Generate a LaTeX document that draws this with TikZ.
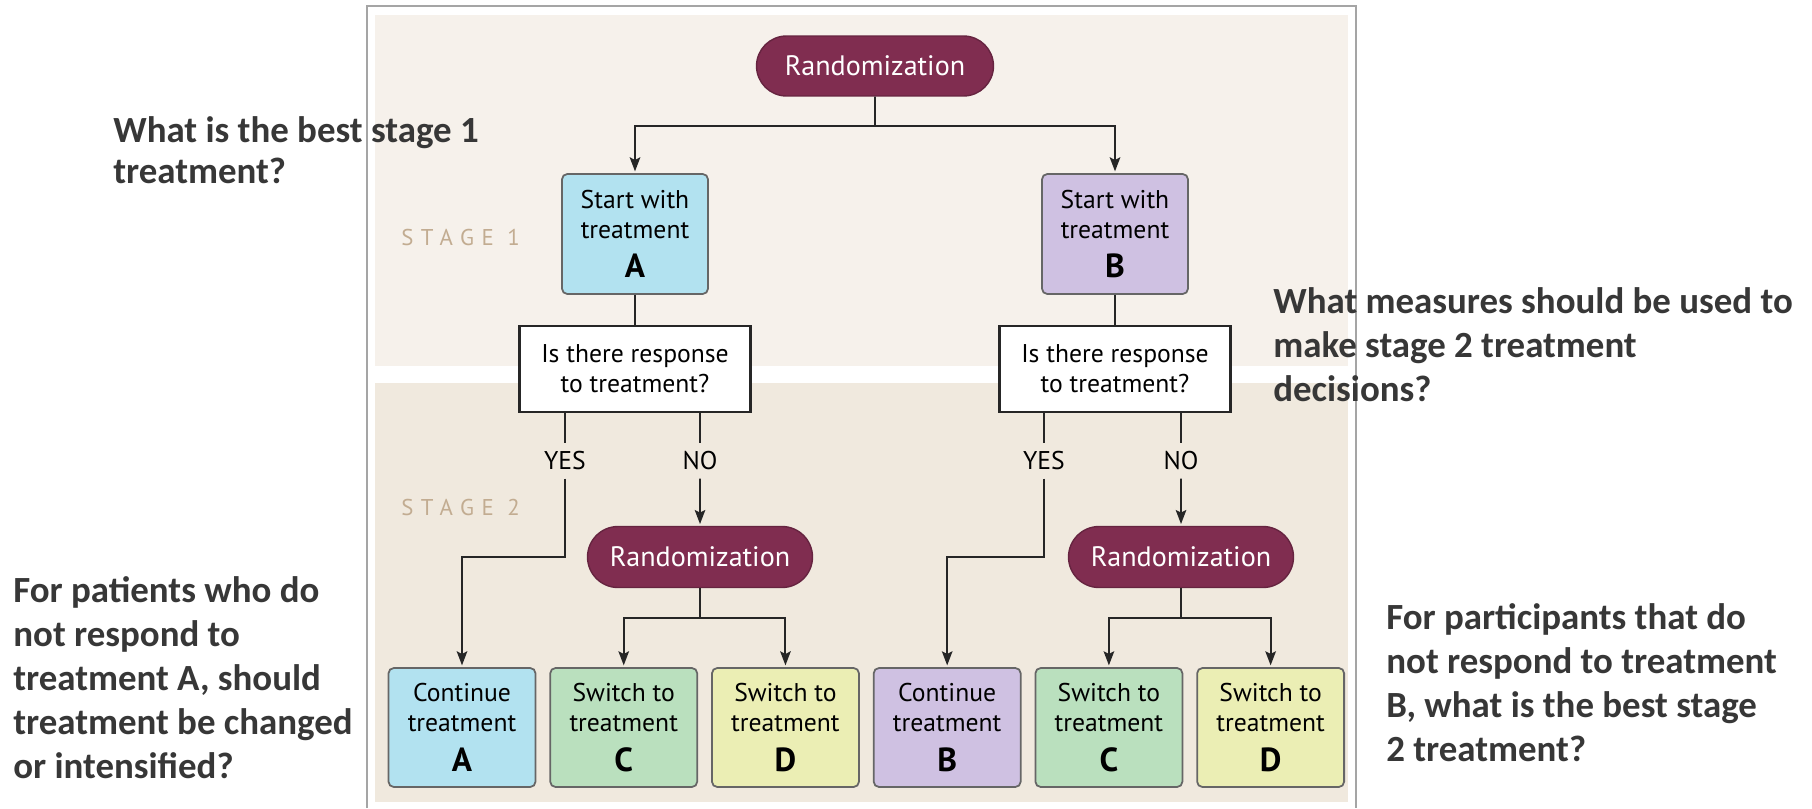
\documentclass[tikz,border=0pt]{standalone}
\usepackage{fontspec}
\setmainfont{PT Sans}
\newfontfamily\noteFont{Carlito}
\usetikzlibrary{arrows.meta,positioning,shapes.misc}
\definecolor{randRed}{RGB}{128,45,80}
\definecolor{treatA}{RGB}{178,226,240}
\definecolor{treatB}{RGB}{207,193,226}
\definecolor{treatC}{RGB}{186,224,190}
\definecolor{treatD}{RGB}{235,238,180}
\definecolor{stageOneBg}{RGB}{246,241,235}
\definecolor{stageTwoBg}{RGB}{240,233,222}
\definecolor{stageInk}{RGB}{194,172,145}
\definecolor{noteInk}{RGB}{55,55,55}
\definecolor{frameGray}{RGB}{165,165,165}

\begin{document}
\begin{tikzpicture}[x=0.02cm, y=-0.02cm,
  link/.style={line width=1.1pt, draw=black!85},
  flow/.style={link, -{Stealth[length=8pt,width=6pt,inset=1.5pt]}, shorten >=1pt},
  rand/.style={rounded rectangle, fill=randRed, draw=randRed!80!black, line width=0.8pt,
    text=white, font=\fontsize{16}{19}\selectfont, minimum width=4.74cm, minimum height=1.2cm, inner sep=0pt},
  tbox/.style={rectangle, rounded corners=3pt, draw=black!60, line width=1pt, align=center,
    font=\fontsize{14.6}{17}\selectfont, inner sep=0pt},
  startbox/.style={tbox, minimum width=2.92cm, minimum height=2.4cm},
  leaf/.style={tbox, minimum width=2.94cm, minimum height=2.38cm},
  ask/.style={rectangle, draw=black!85, line width=1.3pt, fill=white, align=center,
    font=\fontsize{14.6}{17}\selectfont, minimum width=4.62cm, minimum height=1.72cm, inner sep=0pt},
  answer/.style={font=\fontsize{14.6}{17}\selectfont, inner sep=4.5pt},
  stage/.style={text=stageInk, font=\fontsize{13}{15}\selectfont\addfontfeature{LetterSpace=33},
    inner sep=0pt, anchor=base west},
  note/.style={text=noteInk, font=\noteFont\bfseries\fontsize{21}{25}\selectfont, align=left,
    inner sep=0pt, anchor=base west}
]
    \newcommand{\bigLetter}[1]{
        {\fontsize{19}{19}\selectfont\bfseries #1}
    }
  \useasboundingbox (0,0) rectangle (1812,808);

  \fill[stageOneBg] (375,15) rectangle (1348,366);
  \fill[stageTwoBg] (375,383) rectangle (1348,802);
  \draw[frameGray, line width=1.2pt] (367,808) -- (367,6) -- (1356,6) -- (1356,808);

  \node[stage] (stageOne) at (401,245) {STAGE 1};
  \node[stage] (stageTwo) at (401,515) {STAGE 2};

  \node[rand] (randTop) at (875,66) {Randomization};
  \node[startbox, fill=treatA] (startA) at (635,234) {Start with\\treatment\\[5.5pt]\bigLetter{A}};
  \node[startbox, fill=treatB] (startB) at (1115,234) {Start with\\treatment\\[5.5pt]\bigLetter{B}};
  \node[ask] (askA) at (635,369) {Is there response\\to treatment?};
  \node[ask] (askB) at (1115,369) {Is there response\\to treatment?};

  \node[answer] (yesA) at (565,461) {YES};
  \node[answer] (noA) at (700,461) {NO};
  \node[answer] (yesB) at (1044,461) {YES};
  \node[answer] (noB) at (1181,461) {NO};

  \node[rand, minimum width=4.5cm, minimum height=1.22cm] (randA) at (700,557) {Randomization};
  \node[rand, minimum width=4.5cm, minimum height=1.22cm] (randB) at (1181,557) {Randomization};

  \node[leaf, fill=treatA] (contA) at (462,727.5) {Continue\\treatment\\[5.5pt]\bigLetter{A}};
  \node[leaf, fill=treatC, right=0.26cm of contA] (switchCA) {Switch to\\treatment\\[5.5pt]\bigLetter{C}};
  \node[leaf, fill=treatD, right=0.26cm of switchCA] (switchDA) {Switch to\\treatment\\[5.5pt]\bigLetter{D}};
  \node[leaf, fill=treatB, right=0.26cm of switchDA] (contB) {Continue\\treatment\\[5.5pt]\bigLetter{B}};
  \node[leaf, fill=treatC, right=0.26cm of contB] (switchCB) {Switch to\\treatment\\[5.5pt]\bigLetter{C}};
  \node[leaf, fill=treatD, right=0.26cm of switchCB] (switchDB) {Switch to\\treatment\\[5.5pt]\bigLetter{D}};

  \coordinate (forkTop) at (875,126);
  \coordinate (forkA) at (700,618);
  \coordinate (forkB) at (1181,618);

  \draw[link] (randTop) -- (forkTop);
  \draw[flow] (forkTop) -| (startA);
  \draw[flow] (forkTop) -| (startB);
  \draw[link] (startA) -- (askA);
  \draw[link] (startB) -- (askB);

  \draw[link] (askA.south -| yesA) -- (yesA);
  \draw[link] (askA.south -| noA) -- (noA);
  \draw[link] (askB.south -| yesB) -- (yesB);
  \draw[link] (askB.south -| noB) -- (noB);
  \draw[flow] (yesA) -- (yesA |- randA) -| (contA);
  \draw[flow] (yesB) -- (yesB |- randB) -| (contB);
  \draw[flow] (noA) -- (randA);
  \draw[flow] (noB) -- (randB);

  \draw[link] (randA) -- (forkA);
  \draw[flow] (forkA) -| (switchCA);
  \draw[flow] (forkA) -| (switchDA);
  \draw[link] (randB) -- (forkB);
  \draw[flow] (forkB) -| (switchCB);
  \draw[flow] (forkB) -| (switchDB);

  \node[note, font=\noteFont\bfseries\fontsize{21}{23.3}\selectfont] (askStageOne) at (113,183)
    {What is the best stage 1\\treatment?};
  \node[note] (askMeasures) at (1273,401)
    {What measures should be used to\\make stage 2 treatment\\decisions?};
  \node[note] (askNonRespA) at (13,778)
    {For patients who do\\not respond to\\treatment A, should\\treatment be changed\\or intensified?};
  \node[note] (askNonRespB) at (1386,761)
    {For participants that do\\not respond to treatment\\B, what is the best stage\\2 treatment?};
\end{tikzpicture}
\end{document}
